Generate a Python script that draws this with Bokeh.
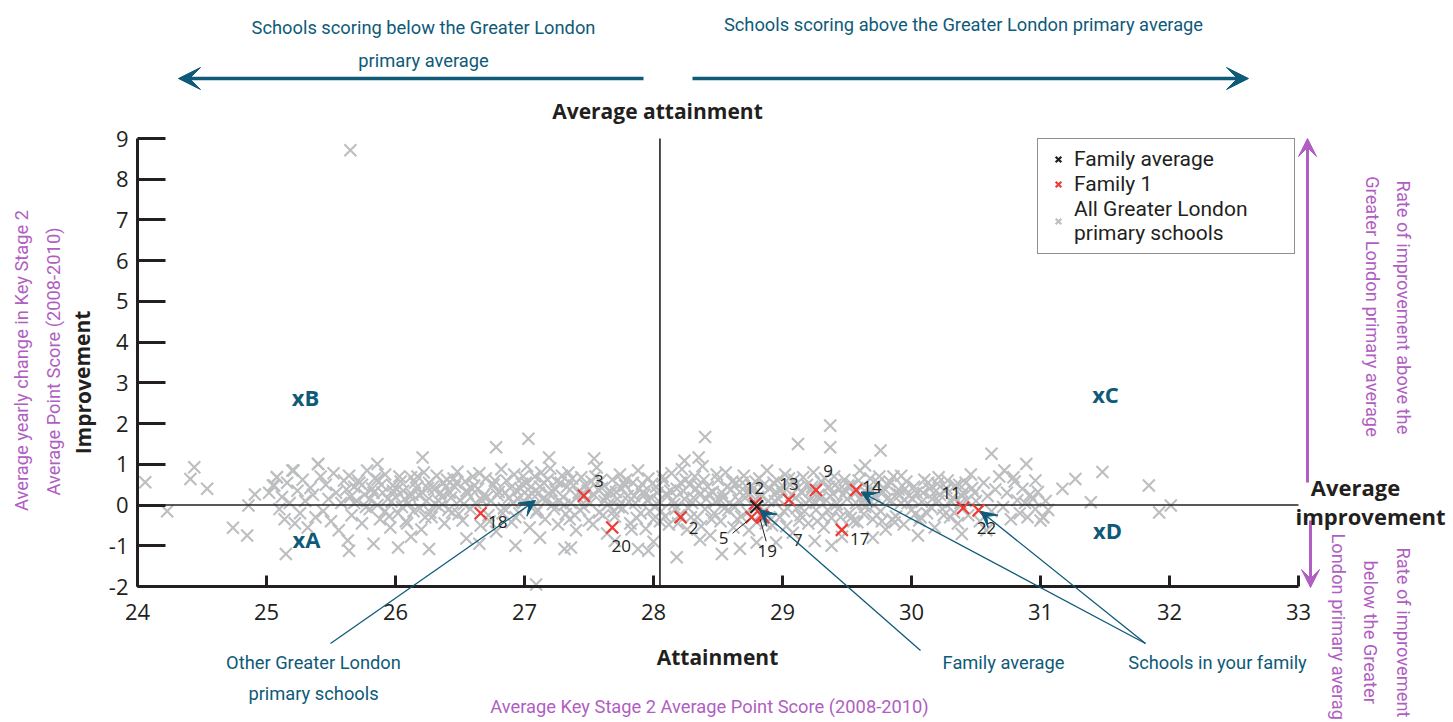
from bokeh.plotting import figure
from bokeh.models import (Label, Arrow, VeeHead, FixedTicker, Legend, LegendItem,
                          ColumnDataSource, LinearAxis, Range1d, PrintfTickFormatter)
from bokeh.core.properties import value
from bokeh.embed import file_html
from bokeh.resources import INLINE

# ---------------- data ----------------
x_ticks = [24, 25, 26, 27, 28, 29, 30, 31, 32, 33]
y_ticks = [-2, -1, 0, 1, 2, 3, 4, 5, 6, 7, 8, 9]
attainment_avg = 28.05
improvement_avg = 0.0

grey_x = [
    25.02, 25.05, 25.08, 25.10, 25.12, 25.14, 25.16, 25.18, 25.20, 25.22,
    25.24, 25.26, 25.28, 25.30, 25.32, 25.34, 25.36, 25.38, 25.40, 25.42,
    25.44, 25.46, 25.48, 25.50, 25.52, 25.54, 25.56, 25.58, 25.60, 25.62,
    25.64, 25.66, 25.68, 25.70, 25.72, 25.74, 25.76, 25.78, 25.80, 25.82,
    25.84, 25.86, 25.88, 25.90, 25.92, 25.94, 25.96, 25.98, 26.00, 26.02,
    26.04, 26.06, 26.08, 26.10, 26.12, 26.14, 26.16, 26.18, 26.20, 26.22,
    26.24, 26.26, 26.28, 26.30, 26.32, 26.34, 26.36, 26.38, 26.40, 26.42,
    26.44, 26.46, 26.48, 26.50, 26.52, 26.54, 26.56, 26.58, 26.60, 26.62,
    26.64, 26.66, 26.68, 26.70, 26.72, 26.74, 26.76, 26.78, 26.80, 26.82,
    26.84, 26.86, 26.88, 26.90, 26.92, 26.94, 26.96, 26.98, 27.00, 27.02,
    27.04, 27.06, 27.08, 27.10, 27.12, 27.14, 27.16, 27.18, 27.20, 27.22,
    27.24, 27.26, 27.28, 27.30, 27.32, 27.34, 27.36, 27.38, 27.40, 27.42,
    27.44, 27.46, 27.48, 27.50, 27.52, 27.54, 27.56, 27.58, 27.60, 27.62,
    27.64, 27.66, 27.68, 27.70, 27.72, 27.74, 27.76, 27.78, 27.80, 27.82,
    27.84, 27.86, 27.88, 27.90, 27.92, 27.94, 27.96, 27.98, 28.00, 28.02,
    28.04, 28.06, 28.08, 28.10, 28.12, 28.14, 28.16, 28.18, 28.20, 28.22,
    28.24, 28.26, 28.28, 28.30, 28.32, 28.34, 28.36, 28.38, 28.40, 28.42,
    28.44, 28.46, 28.48, 28.50, 28.52, 28.54, 28.56, 28.58, 28.60, 28.62,
    28.64, 28.66, 28.68, 28.70, 28.72, 28.74, 28.76, 28.78, 28.80, 28.82,
    28.84, 28.86, 28.88, 28.90, 28.92, 28.94, 28.96, 28.98, 29.00, 29.02,
    29.04, 29.06, 29.08, 29.10, 29.12, 29.14, 29.16, 29.18, 29.20, 29.22,
    29.24, 29.26, 29.28, 29.30, 29.32, 29.34, 29.36, 29.38, 29.40, 29.42,
    29.44, 29.46, 29.48, 29.50, 29.52, 29.54, 29.56, 29.58, 29.60, 29.62,
    29.64, 29.66, 29.68, 29.70, 29.72, 29.74, 29.76, 29.78, 29.80, 29.82,
    29.84, 29.86, 29.88, 29.90, 29.92, 29.94, 29.96, 29.98, 30.00, 30.02,
    30.04, 30.06, 30.08, 30.10, 30.12, 30.14, 30.16, 30.18, 30.20, 30.22,
    30.24, 30.26, 30.28, 30.30, 30.32, 30.34, 30.36, 30.38, 30.40, 30.42,
    25.65, 25.71, 25.77, 25.83, 25.89, 25.95, 26.01, 26.07, 26.13, 26.19,
    26.25, 26.31, 26.37, 26.43, 26.49, 26.55, 26.61, 26.67, 26.73, 26.79,
    26.85, 26.91, 26.97, 27.03, 27.09, 27.15, 27.21, 27.27, 27.33, 27.39,
    27.45, 27.51, 27.57, 27.63, 27.69, 27.75, 27.81, 27.87, 27.93, 27.99,
    28.05, 28.11, 28.17, 28.23, 28.29, 28.35, 28.41, 28.47, 28.53, 28.59,
    28.65, 28.71, 28.77, 28.83, 28.89, 28.95, 29.01, 29.07, 29.13, 29.19,
    29.25, 29.31, 29.37, 29.43, 29.49, 29.55, 29.61, 29.67, 29.73, 29.79,
    29.85, 29.91, 29.97, 30.03, 30.09, 30.15, 30.21, 30.27, 30.33, 30.39,
    25.92, 25.97, 26.03, 26.09, 26.15, 26.21, 26.27, 26.33, 26.39, 26.45,
    26.93, 26.99, 27.05, 27.11, 27.17, 27.23, 27.29, 27.35, 27.41, 27.47,
    27.53, 27.59, 27.65, 27.71, 27.77, 27.83, 27.89, 27.95, 28.01, 28.07,
    28.13, 28.19, 28.25, 28.31, 28.37, 28.43, 28.49, 28.55, 28.61, 28.67,
    28.73, 28.79, 28.85, 28.91, 28.97, 29.03, 29.09, 29.15, 29.21, 29.27,
    29.33, 29.39, 29.45, 29.51, 29.57, 29.63, 29.69, 29.75, 29.81, 29.87,
    25.68, 25.74, 25.80, 25.86, 25.98, 26.05, 26.11, 26.17, 26.23, 26.29,
    26.35, 26.41, 26.47, 26.53, 26.59, 26.65, 26.71, 26.77, 26.83, 26.89,
    26.95, 27.01, 27.07, 27.13, 27.19, 27.25, 27.31, 27.37, 27.43, 27.49,
    27.55, 27.61, 27.67, 27.73, 27.79, 27.85, 27.91, 27.97, 28.03, 28.09,
    28.15, 28.21, 28.27, 28.33, 28.39, 28.45, 28.51, 28.57, 28.63, 28.69,
    28.75, 28.81, 28.87, 28.93, 28.99, 29.05, 29.11, 29.17, 29.23, 29.29,
    29.35, 29.41, 29.47, 29.53, 29.59, 29.65, 29.71, 29.77, 29.83, 29.89,
    29.95, 30.01, 30.07, 30.13, 30.19, 30.25, 30.31, 30.37, 30.43, 30.49,
    30.44, 30.47, 30.50, 30.53, 30.56, 30.59, 30.62, 30.65, 30.68, 30.71,
    30.74, 30.77, 30.80, 30.82, 30.84, 30.86, 30.88, 30.90, 30.92, 30.94,
    30.96, 30.98, 31.00, 31.02, 31.04, 31.06, 30.46, 30.58, 30.72, 30.96,
    24.06, 24.23, 24.41, 24.44, 24.54, 24.74, 24.85, 24.86, 24.91, 25.15,
    25.63, 25.64, 25.65, 25.40, 25.86, 25.83, 26.02, 26.21, 26.26, 26.78,
    27.03, 27.09, 27.19, 27.54, 26.65, 26.93, 27.31, 27.88, 27.36, 27.96,
    28.40, 28.24, 28.35, 29.37, 29.37, 29.12, 29.76, 29.64, 28.18, 28.53,
    29.38, 29.92, 30.21, 30.62, 30.89, 30.79, 31.27, 31.48, 31.17, 31.39,
    31.84, 31.92, 32.01, 31.02, 30.39, 26.12, 26.55, 27.12, 27.70, 28.36,
    28.80, 29.25, 29.70, 30.05, 28.00, 28.67, 28.95, 25.06, 25.08, 25.21,
]
grey_y = [
    0.30, 0.48, 0.68, -0.10, 0.20, -0.35, 0.55, 0.05, 0.85, -0.45,
    0.35, -0.20, 0.62, 0.10, -0.55, 0.42, 0.25, -0.30, 1.01, 0.70,
    -0.15, 0.50, 0.15, -0.40, 0.78, 0.30, -0.62, 0.05, 0.60, 0.38,
    0.72, -0.25, 0.45, 0.10, 0.55, -0.45, 0.25, 0.85, -0.10, 0.40,
    0.65, 0.00, -0.35, 0.30, 0.75, 0.15, -0.55, 0.48, 0.20, -0.20,
    0.58, 0.35, -0.40, 0.05, 0.68, -0.15, 0.42, 0.25, -0.60, 0.80,
    0.10, 0.55, -0.30, 0.38, 0.72, -0.05, 0.20, -0.45, 0.62, 0.30,
    -0.18, 0.45, 0.82, 0.12, -0.38, 0.58, 0.28, -0.10, 0.70, 0.05,
    0.40, -0.50, 0.22, 0.65, -0.25, 0.10, 0.50, -0.65, 0.32, 0.88,
    -0.08, 0.60, 0.18, -0.42, 0.75, 0.35, -0.20, 0.52, 0.08, 0.95,
    -0.55, 0.28, 0.70, -0.12, 0.45, 0.15, -0.35, 0.62, 0.90, 0.02,
    0.38, -0.48, 0.55, 0.20, -0.22, 0.80, 0.05, 0.48, -0.62, 0.30,
    0.68, -0.05, 0.12, -0.38, 0.58, 0.25, 0.92, -0.18, 0.42, 0.10,
    -0.70, 0.35, 0.62, -0.28, 0.15, 0.75, -0.08, 0.48, 0.22, -0.45,
    0.55, 0.05, 0.85, -0.20, 0.32, -0.58, 0.65, 0.18, -0.35, 0.45,
    0.10, -0.15, 0.60, 0.28, -0.48, 0.78, 0.02, 0.40, -0.25, 0.88,
    0.15, -0.60, 0.50, 0.05, 0.70, -0.30, 0.25, 0.95, -0.10, 0.45,
    -0.75, 0.32, 0.08, 0.62, -0.40, 0.18, 0.80, -0.12, 0.38, -0.55,
    0.55, 0.12, -0.28, 0.72, 0.30, -0.62, 0.48, 0.02, -0.42, 0.65,
    0.22, -0.15, 0.85, 0.40, -0.50, 0.10, 0.60, -0.30, 0.28, 0.75,
    -0.08, 0.50, -0.68, 0.18, 0.42, -0.25, 0.68, 0.05, -0.45, 0.35,
    0.80, -0.12, 0.25, 0.58, -0.55, 0.12, 0.45, -0.32, 0.70, 0.02,
    0.38, -0.78, 0.62, 0.15, -0.20, 0.50, 0.28, -0.42, 0.85, 0.08,
    -0.05, 0.42, 0.65, -0.35, 0.20, 0.55, -0.15, 0.32, -0.60, 0.48,
    0.12, 0.70, -0.28, 0.38, 0.05, -0.48, 0.58, 0.22, -0.12, 0.45,
    0.30, -0.38, 0.08, 0.62, -0.20, 0.40, 0.15, -0.55, 0.52, 0.25,
    -0.10, 0.35, 0.60, -0.30, 0.18, 0.48, -0.45, 0.05, 0.30, 0.55,
    0.20, 0.60, -0.05, 0.30, 0.50, -0.28, 0.38, 0.15, 0.25, -0.08,
    0.42, 0.02, 0.55, 0.18, -0.22, 0.35, 0.48, 0.12, -0.40, 0.25,
    0.30, 0.05, 0.40, 0.22, -0.18, 0.55, 0.35, 0.10, 0.45, -0.25,
    0.28, 0.05, 0.38, 0.20, -0.15, 0.42, 0.08, -0.32, 0.25, 0.52,
    -0.40, 0.22, -0.10, 0.35, -0.30, 0.48, 0.15, -0.20, 0.30, 0.05,
    -0.35, 0.18, 0.40, -0.22, 0.10, 0.32, -0.15, 0.25, -0.38, 0.50,
    0.08, -0.28, 0.22, -0.10, 0.35, -0.40, 0.20, 0.10, -0.25, 0.40,
    -0.35, 0.25, 0.05, -0.22, 0.30, -0.05, 0.10, 0.42, -0.18, 0.22,
    -0.15, 0.08, 0.70, -0.45, 0.55, 0.30, -0.18, 0.12, 0.45, 0.65,
    -0.30, 0.70, 0.45, 0.30, 0.12, -0.10, 0.72, -0.35, 0.20, 0.50,
    -0.48, 0.60, 0.02, 0.32, 0.55, -0.60, 0.40, 0.12, -0.05, 0.70,
    0.35, -0.45, 0.62, 0.18, -0.52, 0.28, 0.75, -0.08, 0.58, 0.32,
    -0.18, 0.58, 0.48, -0.35, 0.15, -0.52, 0.62, 0.30, 0.12, -0.40,
    0.65, 0.28, -0.30, 0.48, 0.05, -0.22, 0.35, 0.70, 0.15, -0.42,
    0.05, 0.50, 0.15, 0.62, 0.35, -0.05, 0.22, 0.70, -0.30, 0.45,
    0.30, -0.12, 0.55, 0.02, 0.40, 0.78, 0.20, 0.60, -0.20, 0.42,
    0.15, 0.55, -0.02, 0.80, 0.28, 0.58, 0.00, 0.65, -0.12, 0.35,
    0.70, -0.25, 0.30, -0.05, 0.62, 0.22, 0.52, -0.15, 0.30, -0.28,
    0.12, 0.55, -0.08, 0.40, 0.62, -0.35, 0.15, 0.45, -0.05, 0.55,
    0.28, 0.20, -0.45, 0.55, 0.38, 0.65, -0.08, -0.15, 0.45, 0.15,
    -0.12, 0.50, 0.25, -0.32, 0.60, 0.30, 0.00, -0.40, 0.58, 0.28,
    0.40, 0.15, -0.30, 0.55, 0.35, -0.25, 0.08, 0.50, 0.12, 0.30,
    -0.25, 0.42, 0.10, -0.40, 0.55, 0.22, -0.15, 0.38, 0.70, -0.05,
    0.30, -0.35, 0.58, 0.12, -0.20, 0.40, 0.05, -0.30, 0.25, 0.15,
    -0.10, 0.32, -0.38, -0.30, 0.10, -0.12, 0.75, -0.62, 0.85, 0.60,
    0.56, -0.15, 0.64, 0.93, 0.40, -0.56, -0.75, -0.01, 0.26, -1.20,
    -0.87, -1.12, 8.71, 1.01, 1.01, -0.95, -1.04, 1.17, -1.08, 1.42,
    1.63, -1.95, 1.17, 1.14, -0.95, -1.00, -1.08, -1.08, -1.04, -1.12,
    1.67, 1.09, 1.17, 1.95, 1.42, 1.50, 1.34, 0.97, -1.28, -1.20,
    -1.00, 0.72, 0.68, 1.26, 1.01, 0.68, 0.64, 0.81, 0.40, 0.07,
    0.48, -0.18, -0.01, -0.30, -0.71, -0.78, -0.82, -0.80, -0.88, -0.85,
    -0.92, -0.88, -0.80, -0.75, -0.90, -1.07, -0.92, 0.48, 0.68, 0.85,
]

family_ids = ["2", "3", "5", "7", "9", "11", "12", "13", "14", "17", "18", "19", "20", "22"]
family_x = [28.21, 27.46, 28.76, 28.84, 29.26, 30.40, 28.79, 29.05, 29.57, 29.46, 26.66, 28.85, 27.68, 30.52]
family_y = [-0.30, 0.23, -0.30, -0.25, 0.37, -0.07, 0.04, 0.13, 0.37, -0.61, -0.20, -0.30, -0.55, -0.13]

family_avg_x = [28.80]
family_avg_y = [-0.04]

# ---------------- styling / layout ----------------
BLACK = "#231f20"
GREY = "#bcbec0"
RED = "#ee3b33"
TEAL = "#0e5a78"
PURPLE = "#b05ec2"
SANS = "Open Sans"
NARROW = "Roboto"
NARROW_SIZE = 18.3

# label offsets in screen pixels (right, down)
label_dx = [13, 15, -28, 36, 12, -12, -1, 0, 16, 18, 17, 4, 9, 8]
label_dy = [11, -15, 21, 25, -19, -15, -15, -16, -3, 9, 9, 34, 19, 18]

# plot-frame box on the canvas (pixels) and canvas size
FL, FT, FW, FH = 137, 138, 1161, 448
W, H = 1450, 720
X0, X1, Y0, Y1 = 24, 33, -2, 9
SX = FW / (X1 - X0)
SY = FH / (Y1 - Y0)


def dxp(px):
    return X0 + (px - FL) / SX


def dyp(py):
    return Y1 - (py - FT) / SY


p = figure(width=W, height=H, x_range=Range1d(dxp(0), dxp(W)), y_range=Range1d(dyp(H), dyp(0)),
           output_backend="svg", toolbar_location=None,
           x_axis_location=None, y_axis_location=None,
           min_border=0, min_border_left=0, min_border_right=0, min_border_top=0, min_border_bottom=0)
p.outline_line_color = None
p.grid.visible = False
p.background_fill_color = "white"
p.border_fill_color = "white"

xaxis = LinearAxis(fixed_location=Y0, bounds=(X0, X1))
yaxis = LinearAxis(fixed_location=X0, bounds=(Y0, Y1))
for ax, tin, ticks, stand in ((xaxis, 11, x_ticks, 17), (yaxis, 28, y_ticks, 9)):
    ax.ticker = FixedTicker(ticks=ticks)
    ax.formatter = PrintfTickFormatter(format="%d")
    ax.major_tick_in = tin
    ax.major_tick_out = 0
    ax.minor_tick_in = 0
    ax.minor_tick_out = 0
    ax.axis_line_width = 3
    ax.axis_line_color = BLACK
    ax.major_tick_line_width = 3
    ax.major_tick_line_color = BLACK
    ax.major_label_text_font = SANS
    ax.major_label_text_font_size = "22px"
    ax.major_label_text_color = BLACK
    ax.major_label_standoff = stand
p.add_layout(xaxis, "below")
p.add_layout(yaxis, "left")

r_grey = p.scatter(grey_x, grey_y, marker="x", size=17, line_color=GREY, line_width=2.1)

# quadrant (average) lines
p.segment([attainment_avg, X0], [Y0, improvement_avg], [attainment_avg, X1], [Y1, improvement_avg],
          line_color=BLACK, line_width=1.6)

fam_src = ColumnDataSource(dict(x=family_x, y=family_y, t=family_ids, ox=label_dx, oy=label_dy))
r_fam = p.scatter("x", "y", source=fam_src, marker="x", size=17, line_color=RED, line_width=2.2)
r_avg = p.scatter(family_avg_x, family_avg_y, marker="x", size=18, line_color=BLACK, line_width=2.2)

p.text("x", "y", text="t", source=fam_src, x_offset="ox", y_offset="oy",
       text_align="center", text_baseline="middle", text_color=BLACK,
       text_font=value(SANS), text_font_size="17px")

# leader lines for labels 5 and 19
lead_idx = [family_ids.index("5"), family_ids.index("19")]
lead_a = [(-2, 2), (-3, 2)]
lead_b = [(-19, 16), (3, 24)]
p.segment([family_x[i] + a[0] / SX for i, a in zip(lead_idx, lead_a)],
          [family_y[i] - a[1] / SY for i, a in zip(lead_idx, lead_a)],
          [family_x[i] + b[0] / SX for i, b in zip(lead_idx, lead_b)],
          [family_y[i] - b[1] / SY for i, b in zip(lead_idx, lead_b)],
          line_color=BLACK, line_width=1)

legend = Legend(items=[LegendItem(label="Family average", renderers=[r_avg]),
                       LegendItem(label="Family 1", renderers=[r_fam]),
                       LegendItem(label="All Greater London\nprimary schools", renderers=[r_grey])],
                location=(1037, H - 254), margin=0, padding=8, spacing=1,
                glyph_width=24, glyph_height=20, label_standoff=4, label_height=20,
                label_width=212,
                label_text_font="Roboto", label_text_font_size="21px", label_text_color=BLACK,
                border_line_color=BLACK, border_line_width=1.5, background_fill_alpha=1)
p.add_layout(legend)


def lab(text, px, py, size=NARROW_SIZE, color=TEAL, font=NARROW, bold=False, angle=0.0,
        align="center", baseline="middle"):
    p.add_layout(Label(x=dxp(px), y=dyp(py), text=text, text_font=font,
                       text_font_size=f"{size}px", text_color=color,
                       text_font_style="bold" if bold else "normal",
                       angle=angle, text_align=align, text_baseline=baseline))


def arrow(x0, y0, x1, y1, color=TEAL, width=1.3, head=16):
    p.add_layout(Arrow(end=VeeHead(size=head, fill_color=color, line_color=color, line_width=1),
                       x_start=x0, y_start=y0, x_end=x1, y_end=y1,
                       line_color=color, line_width=width))


# top annotations
lab("Schools scoring below the Greater London", 423, 27)
lab("primary average", 423, 60)
lab("Schools scoring above the Greater London primary average", 963, 24)
arrow(dxp(643), dyp(78), dxp(178), dyp(78), width=3.5, head=22)
arrow(dxp(692), dyp(78), dxp(1248), dyp(78), width=3.5, head=22)
lab("Average attainment", 657, 110, size=21, color=BLACK, font=SANS, bold=True)

# quadrant letters
lab("xA", 306, 538, size=22, font=SANS, bold=True)
lab("xB", 305, 396, size=22, font=SANS, bold=True)
lab("xC", 1105, 393, size=22, font=SANS, bold=True)
lab("xD", 1107, 529, size=22, font=SANS, bold=True)

# left axis labels
lab("Improvement", 82, 382, size=21, color=BLACK, font=SANS, bold=True, angle=1.5708)
lab("Average yearly change in Key Stage 2", 21, 360, color=PURPLE, angle=1.5708)
lab("Average Point Score (2008-2010)", 53, 361, color=PURPLE, angle=1.5708)

# bottom labels
lab("Attainment", 717, 656, size=21, color=BLACK, font=SANS, bold=True)
lab("Average Key Stage 2 Average Point Score (2008-2010)", 709, 706, color=PURPLE)
lab("Other Greater London", 313, 662)
lab("primary schools", 313, 693)
lab("Family average", 1003, 662)
lab("Schools in your family", 1217, 662)

# pointer arrows
arrow(dxp(330), dyp(643), dxp(535), dyp(500))
arrow(dxp(920), dyp(650), family_avg_x[0] + 3 / SX, family_avg_y[0] - 3 / SY)
i14 = family_ids.index("14")
i22 = family_ids.index("22")
arrow(dxp(1145), dyp(643), family_x[i14] + 5 / SX, family_y[i14] - 2 / SY)
arrow(dxp(1145), dyp(643), family_x[i22] + 2 / SX, family_y[i22] - 1 / SY)

# right side
arrow(dxp(1307), dyp(482), dxp(1307), dyp(138), color=PURPLE, width=3, head=18)
arrow(dxp(1310), dyp(520), dxp(1310), dyp(587), color=PURPLE, width=3, head=18)
lab("Average", 1355, 486, size=22, color=BLACK, font=SANS, bold=True)
lab("improvement", 1370, 515, size=22, color=BLACK, font=SANS, bold=True)
lab("Rate of improvement above the", 1403, 307, color=PURPLE, angle=-1.5708)
lab("Greater London primary average", 1372, 306, color=PURPLE, angle=-1.5708)
lab("Rate of improvement", 1403, 547, color=PURPLE, angle=-1.5708, align="left")
lab("below the Greater", 1370, 560, color=PURPLE, angle=-1.5708, align="left")
lab("London primary average", 1338, 533, color=PURPLE, angle=-1.5708, align="left")

open("out.html", "w").write(file_html(p, INLINE))
